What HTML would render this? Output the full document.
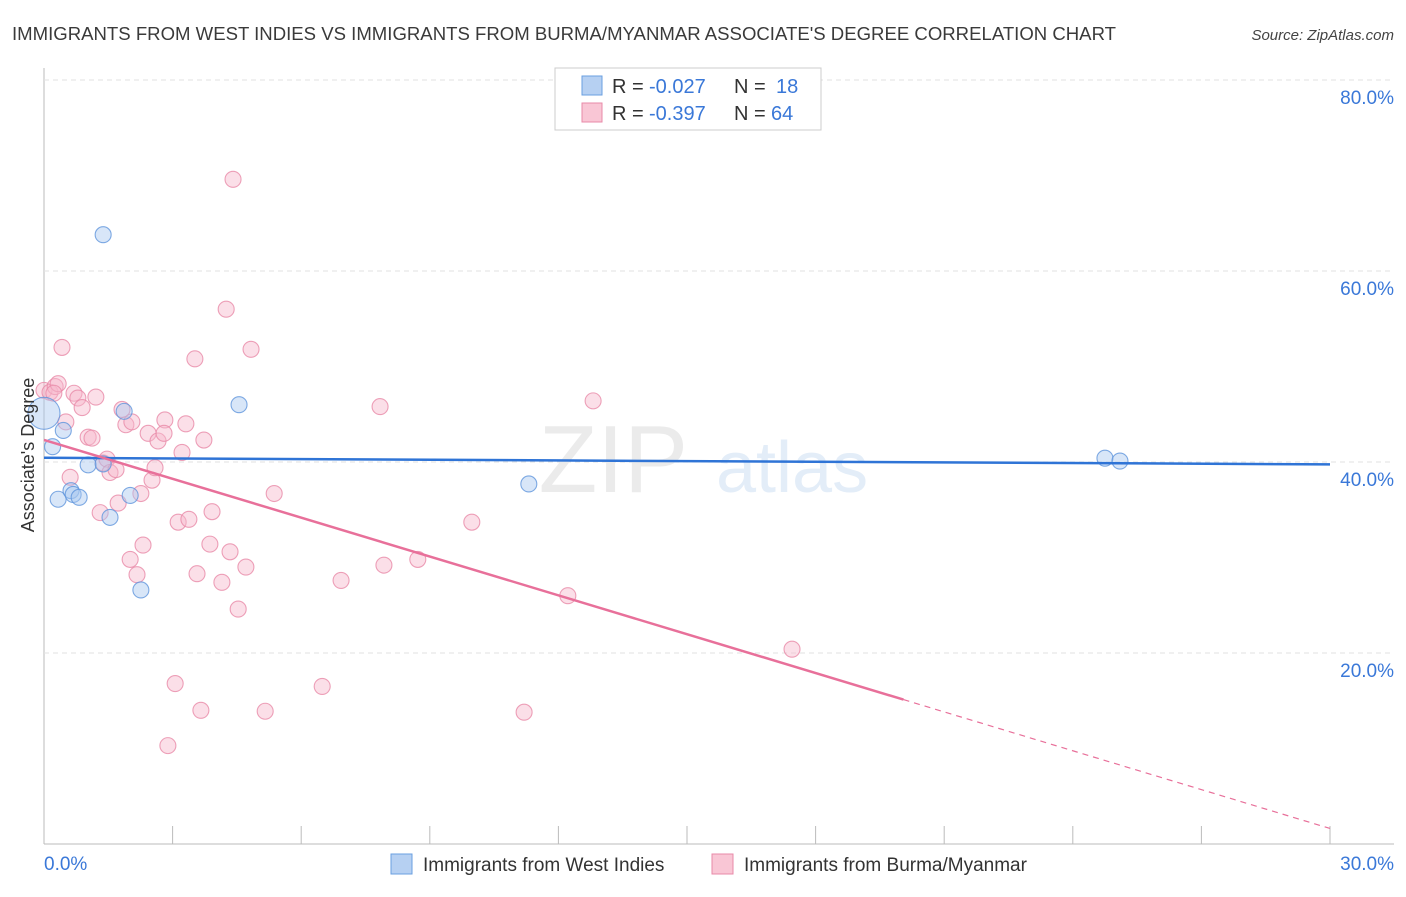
<!DOCTYPE html>
<html><head><meta charset="utf-8"><style>
body{margin:0;background:#fff;font-family:"Liberation Sans",sans-serif;}
svg text{font-family:"Liberation Sans",sans-serif;}
</style></head><body>
<svg id="chart" width="1406" height="892" xmlns="http://www.w3.org/2000/svg">
<text x="12" y="40" font-size="18" fill="#3a3a3a" textLength="1104" lengthAdjust="spacingAndGlyphs">IMMIGRANTS FROM WEST INDIES VS IMMIGRANTS FROM BURMA/MYANMAR ASSOCIATE'S DEGREE CORRELATION CHART</text>
<text x="1394" y="40" font-size="15" font-style="italic" fill="#444" text-anchor="end">Source: ZipAtlas.com</text>
<g id="grid"></g>
<text x="688" y="492" font-size="96" font-family="Liberation Serif" fill="#ebebeb" text-anchor="end">ZIP</text>
<text x="716" y="492" font-size="72" fill="#e3edf8">atlas</text>
<g id="marks"></g>
<g id="lines"></g>
<text x="34" y="455" font-size="18" fill="#333" text-anchor="middle" transform="rotate(-90 34 455)">Associate's Degree</text>
<text x="44" y="870" font-size="19" fill="#3a78d8">0.0%</text>
<text x="1394" y="870" font-size="19" fill="#3a78d8" text-anchor="end">30.0%</text>
<g>
<rect x="555" y="68" width="266" height="62" fill="#fff" stroke="#ccc"/>
<rect x="582" y="76" width="20" height="19" fill="#b6d0f2" stroke="#6a9fe0"/>
<text x="612" y="93" font-size="20" fill="#333">R =</text>
<text x="649" y="93" font-size="20" fill="#3a78d8">-0.027</text>
<text x="734" y="93" font-size="20" fill="#333">N =</text>
<text x="776" y="93" font-size="20" fill="#3a78d8">18</text>
<rect x="582" y="103" width="20" height="19" fill="#f9c6d5" stroke="#e88aa8"/>
<text x="612" y="120" font-size="20" fill="#333">R =</text>
<text x="649" y="120" font-size="20" fill="#3a78d8">-0.397</text>
<text x="734" y="120" font-size="20" fill="#333">N =</text>
<text x="771" y="120" font-size="20" fill="#3a78d8">64</text>
</g>
<g>
<rect x="391" y="854" width="21" height="20" fill="#b6d0f2" stroke="#6a9fe0"/>
<text x="423" y="871" font-size="19" fill="#333">Immigrants from West Indies</text>
<rect x="712" y="854" width="21" height="20" fill="#f9c6d5" stroke="#e88aa8"/>
<text x="744" y="871" font-size="19" fill="#333">Immigrants from Burma/Myanmar</text>
</g>
</svg>
<script>
const yTicks=[20,40,60,80];
const xTickCount=10;
const blueX=[0.0,0.2,0.45,0.33,0.63,0.68,0.82,1.03,1.38,1.38,1.54,1.87,2.01,2.26,4.55,11.31,24.75,25.1];
const blueY=[45.1,41.6,43.3,36.1,37.0,36.6,36.3,39.7,63.8,39.8,34.2,45.3,36.5,26.6,46.0,37.7,40.4,40.1];
const pinkX=[0.0,0.14,0.26,0.33,0.23,0.42,0.51,0.61,0.7,0.79,0.89,1.03,1.12,1.21,1.31,1.38,1.47,1.54,1.68,1.73,1.82,1.91,2.01,2.05,2.17,2.26,2.31,2.43,2.52,2.59,2.66,2.82,2.8,2.89,3.06,3.13,3.22,3.31,3.38,3.52,3.57,3.66,3.73,3.87,3.92,4.15,4.25,4.34,4.41,4.53,4.71,4.83,5.16,5.37,6.49,6.93,7.84,7.93,8.72,9.98,11.2,12.22,12.81,17.45];
const pinkY=[47.5,47.3,47.9,48.2,47.2,52.0,44.2,38.4,47.2,46.7,45.7,42.6,42.5,46.8,34.7,39.9,40.3,38.9,39.2,35.7,45.5,43.9,29.8,44.2,28.2,36.7,31.3,43.0,38.1,39.4,42.2,44.4,43.0,10.3,16.8,33.7,41.0,44.0,34.0,50.8,28.3,14.0,42.3,31.4,34.8,27.4,56.0,30.6,69.6,24.6,29.0,51.8,13.9,36.7,16.5,27.6,45.8,29.2,29.8,33.7,13.8,26.0,46.4,20.4];
const NS="http://www.w3.org/2000/svg";
const x0=44,x1=1330,y0=844,y80=80;
function sx(v){return x0+(v/30)*(x1-x0);}
function sy(v){return y0-(v/80)*(y0-y80);}
function el(t,a,p){const e=document.createElementNS(NS,t);for(const k in a)e.setAttribute(k,a[k]);p.appendChild(e);return e;}
const grid=document.getElementById('grid');
el('line',{x1:44,y1:68,x2:44,y2:844,stroke:'#bbb'},grid);
el('line',{x1:44,y1:844,x2:1394,y2:844,stroke:'#bbb'},grid);
yTicks.forEach(t=>{
  const g=el('line',{x1:44,y1:sy(t),x2:1394,y2:sy(t),stroke:'#e2e2e2','stroke-dasharray':'5,4'},grid);
  
  
  const tx=el('text',{x:1394,y:sy(t)+24,'font-size':19,fill:'#3a78d8','text-anchor':'end'},grid);
  tx.textContent=t.toFixed(1)+'%';
  
  
});
for(let i=1;i<=xTickCount;i++){
  const x=x0+i*(x1-x0)/xTickCount;
  const l=el('line',{x1:x,y1:826,x2:x,y2:844,stroke:'#bbb'},grid);
  
  
}
const marks=document.getElementById('marks');
function dots(xs,ys,fill,stroke,name,big){
  xs.forEach((v,i)=>{
    const r=(big&&i===0)?16:8;
    const c=el('circle',{cx:sx(v),cy:sy(ys[i]),r:r,fill:fill,'fill-opacity':0.45,stroke:stroke,'stroke-opacity':0.8,'stroke-width':1.1},marks);
    
    
  });
}
dots(pinkX,pinkY,'#f6b8cb','#e88aa8','point-burma',false);
dots(blueX,blueY,'#a9c8f0','#5f95dc','point-west-indies',true);
function fit(xs,ys){const n=xs.length;let mx=0,my=0;xs.forEach((v,i)=>{mx+=v;my+=ys[i];});mx/=n;my/=n;let a=0,b=0;xs.forEach((v,i)=>{a+=(v-mx)*(ys[i]-my);b+=(v-mx)*(v-mx);});const s=a/b;return [s,my-s*mx];}
const lines=document.getElementById('lines');
const bf=fit(blueX,blueY);
const bl=el('line',{x1:sx(0),y1:sy(bf[1]),x2:sx(30),y2:sy(bf[1]+bf[0]*30),stroke:'#2f74d6','stroke-width':2.5},lines);


const pf=fit(pinkX,pinkY);
const xe=Math.max(...pinkX)+2.6;
const pl=el('line',{x1:sx(0),y1:sy(pf[1]),x2:sx(xe),y2:sy(pf[1]+pf[0]*xe),stroke:'#e8709a','stroke-width':2.5},lines);


const pd=el('line',{x1:sx(xe),y1:sy(pf[1]+pf[0]*xe),x2:sx(30),y2:sy(pf[1]+pf[0]*30),stroke:'#e8709a','stroke-width':1.2,'stroke-dasharray':'6,5'},lines);


</script>
</body></html>
